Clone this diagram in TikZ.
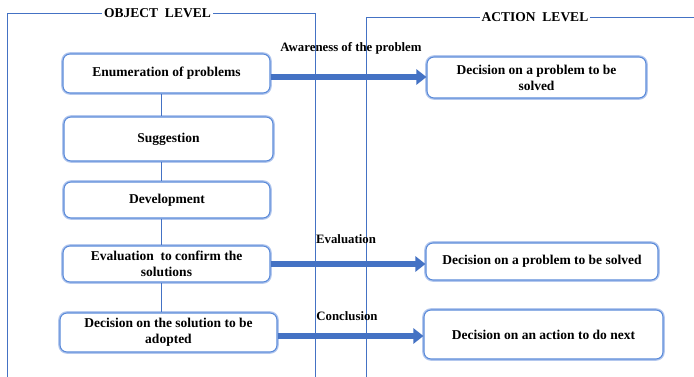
\documentclass[tikz,border=0pt]{standalone}
\usepackage{fontspec}
\setmainfont{Liberation Serif}
\usetikzlibrary{arrows.meta}
\definecolor{frameblue}{HTML}{4472C4}
\definecolor{boxblue}{HTML}{5B8BD9}
\definecolor{glowblue}{HTML}{B4C8EE}
\begin{document}
\begin{tikzpicture}[x=1pt,y=-1pt,
  box/.style={draw=boxblue, line width=1.1pt, fill=white, rounded corners=7pt,
    preaction={draw=glowblue, line width=3.6pt, rounded corners=7pt},
    inner sep=0pt, align=center, font=\fontsize{13.5}{16}\selectfont\bfseries},
  framel/.style={draw=frameblue, line width=0.8pt},
  framelabel/.style={fill=white, inner sep=2pt, font=\fontsize{13.5}{16}\selectfont\bfseries},
  link/.style={draw=frameblue, line width=0.8pt},
  bigarrow/.style={draw=frameblue, line width=6pt, -{Triangle[length=10pt,width=15pt]}},
  arrlabel/.style={inner sep=0pt, font=\fontsize{12.8}{15}\selectfont\bfseries}]
\useasboundingbox (0,0) rectangle (694,377);
% frames
\draw[framel] (7,377) -- (7,13) -- (315,13) -- (315,377);
\draw[framel] (366,377) -- (366,17) -- (694,17);
\node[framelabel] (objlab) at (157.5,13) {OBJECT\ \ LEVEL};
\node[framelabel] (actlab) at (535,17) {ACTION\ \ LEVEL};
% object level boxes
\node[box, minimum width=207pt, minimum height=39pt] (enum) at (166.5,73.5) {Enumeration of problems};
\node[box, minimum width=209pt, minimum height=44pt] (sugg) at (168.5,139) {Suggestion};
\node[box, minimum width=206pt, minimum height=36pt] (dev) at (167,200) {Development};
\node[box, minimum width=207pt, minimum height=36pt] (eval) at (166.5,264) {Evaluation\ \ to\ confirm the\\ solutions};
\node[box, minimum width=217pt, minimum height=39pt] (dsol) at (168.5,332.5) {Decision on the solution to be\\ adopted};
% action level boxes
\node[box, minimum width=219pt, minimum height=41pt] (a1) at (536.5,77.5) {Decision on a problem\ to be\\ solved};
\node[box, minimum width=232pt, minimum height=37pt] (a2) at (542,261.5) {Decision on a problem\ to be solved};
\node[box, minimum width=239pt, minimum height=49pt] (a3) at (543.5,334.5) {Decision on an action to do\ next};
% vertical links
\coordinate (cx) at (161,0);
\draw[link] (cx |- enum.south) -- (cx |- sugg.north);
\draw[link] (cx |- sugg.south) -- (cx |- dev.north);
\draw[link] (cx |- dev.south) -- (cx |- eval.north);
\draw[link] (cx |- eval.south) -- (cx |- dsol.north);
% big arrows
\coordinate (y1) at (0,77);
\coordinate (y2) at (0,264);
\coordinate (y3) at (0,336);
\draw[bigarrow] (enum.east |- y1) -- (a1.west |- y1);
\draw[bigarrow] (eval.east |- y2) -- (a2.west |- y2);
\draw[bigarrow] (dsol.east |- y3) -- (a3.west |- y3);
% arrow labels
\node[arrlabel] (l1) at (351,48) {Awareness of the problem};
\node[arrlabel] (l2) at (346,239) {Evaluation};
\node[arrlabel] (l3) at (347,316) {Conclusion};
\end{tikzpicture}
\end{document}
